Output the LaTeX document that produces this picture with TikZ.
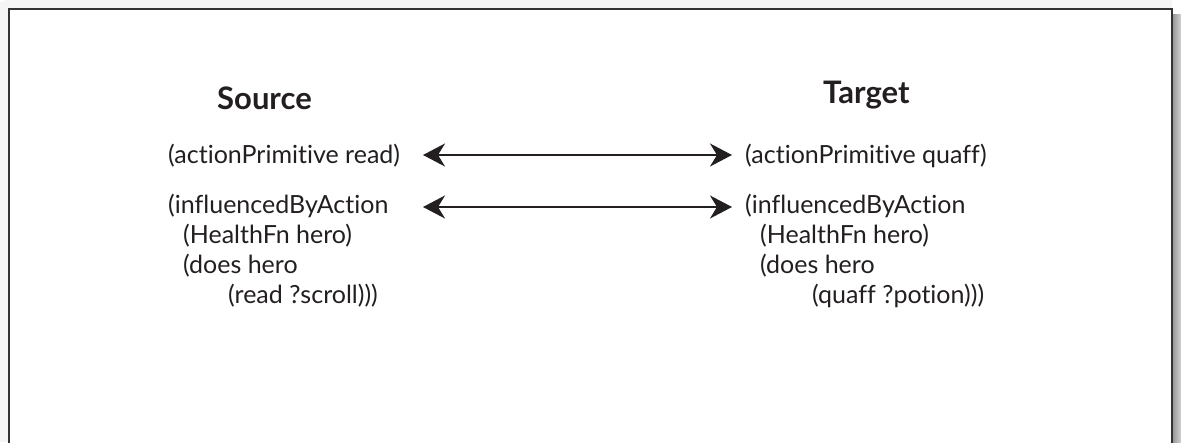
\documentclass[tikz,border=0pt]{standalone}
\usepackage{fontspec}
\setmainfont{Lato}[Ligatures=NoCommon]
\usetikzlibrary{arrows.meta}
\definecolor{ink}{HTML}{231F20}
\begin{document}
\begin{tikzpicture}[x=1pt,y=-1pt,
  txt/.style={anchor=base west, inner sep=0pt, text=ink, font=\fontsize{25}{28}\selectfont},
  head/.style={anchor=base west, inner sep=0pt, text=ink, font=\fontsize{31}{34}\selectfont\bfseries},
  biarrow/.style={{Stealth[length=22pt,width=23pt,inset=7pt]}-{Stealth[length=22pt,width=23pt,inset=7pt]}, line width=2pt, draw=ink}
]
\useasboundingbox (0,0) rectangle (1181,442);
\clip (0,0) rectangle (1181,442);
% shadow
\shade[left color=gray!85, right color=gray!35] (1172,14) rectangle (1181,442);
\fill[gray!8] (0,2) rectangle (8,442);
\fill[gray!8] (4,0) rectangle (1172,8);
% frame
\draw[line width=2pt, draw=black!80, fill=white] (9,9) rectangle (1172,460);

% headings
\node[head] (hs) at (217,109) {Source};
\node[head] (ht) at (823,103) {Target};

% source
\node[txt] (sa) at (168,163) {(actionPrimitive read)};
\node[txt] (sb) at (168,213) {(influencedByAction};
\node[txt] (sc) at (183,243) {(HealthFn hero)};
\node[txt] (sd) at (183,273) {(does hero};
\node[txt] (se) at (228,303) {(read ?scroll)))};

% target
\node[txt] (ta) at (745,163) {(actionPrimitive quaff)};
\node[txt] (tb) at (745,213) {(influencedByAction};
\node[txt] (tc) at (760,243) {(HealthFn hero)};
\node[txt] (td) at (760,273) {(does hero};
\node[txt] (te) at (812,303) {(quaff ?potion)))};

\coordinate (a1l) at (423,155);
\coordinate (a1r) at (732,155);
\coordinate (a2l) at (423,207);
\coordinate (a2r) at (732,207);
\draw[biarrow] (a1l) -- (a1r);
\draw[biarrow] (a2l) -- (a2r);
\end{tikzpicture}
\end{document}
